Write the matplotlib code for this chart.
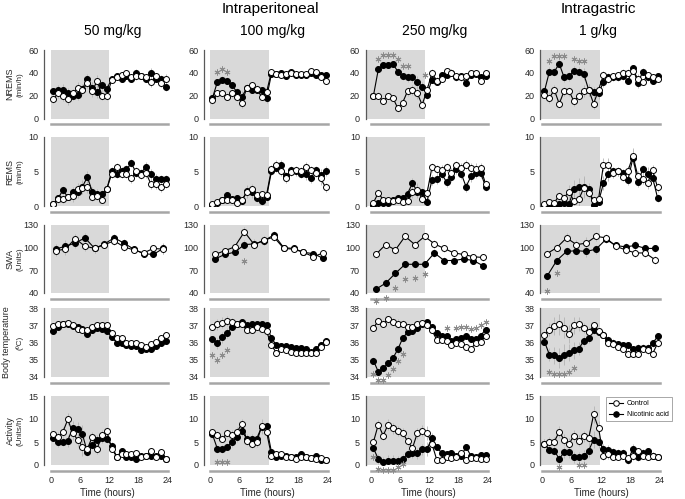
import matplotlib
matplotlib.use('Agg')
import matplotlib.pyplot as plt
from matplotlib.lines import Line2D

plt.rcParams['font.family'] = ['Liberation Sans', 'DejaVu Sans']

# ---------------- data ----------------
hours = [0.5, 1.5, 2.5, 3.5, 4.5, 5.5, 6.5, 7.5, 8.5, 9.5, 10.5, 11.5,
         12.5, 13.5, 14.5, 15.5, 16.5, 17.5, 18.5, 19.5, 20.5, 21.5, 22.5, 23.5]
swa_hours = [1, 3, 5, 7, 9, 11, 13, 15, 17, 19, 21, 23]

column_titles = ["50 mg/kg", "100 mg/kg", "250 mg/kg", "1 g/kg"]
route_titles = ["Intraperitoneal", "Intragastric"]
row_labels = ["NREMS", "REMS", "SWA", "Body temperature", "Activity"]
row_units = ["(min/h)", "(min/h)", "(Units)", "(ºC)", "(Units/h)"]
time_ticks = [0, 6, 12, 18, 24]
series_names = ["Control", "Nicotinic acid"]

# NREMS (min/h)
nrems_ctl_50 = [17, 22, 20, 17, 22, 27, 25, 31, 24, 33, 20, 20, 34, 36, 38, 40, 36, 37, 37, 36, 32, 37, 31, 35]
nrems_na_50 = [24, 25, 25, 22, 20, 21, 26, 35, 27, 23, 29, 26, 35, 37, 35, 37, 35, 40, 37, 35, 40, 35, 35, 28]
nrems_ctl_100 = [16, 22, 22, 19, 22, 19, 14, 27, 29, 26, 19, 23, 41, 39, 38, 39, 40, 39, 39, 39, 42, 41, 36, 33]
nrems_na_100 = [18, 32, 34, 33, 29, 23, 19, 27, 25, 25, 25, 18, 39, 39, 40, 37, 41, 38, 38, 38, 40, 38, 38, 38]
nrems_ctl_250 = [20, 20, 15, 20, 18, 9, 14, 24, 25, 22, 12, 25, 40, 33, 35, 42, 40, 37, 36, 37, 40, 40, 33, 40]
nrems_na_250 = [20, 43, 47, 47, 48, 41, 37, 36, 36, 32, 28, 21, 34, 32, 38, 38, 40, 36, 37, 31, 38, 39, 36, 37]
nrems_ctl_1g = [21, 18, 25, 13, 24, 24, 15, 20, 24, 25, 13, 25, 38, 35, 37, 38, 40, 40, 42, 35, 32, 38, 36, 35]
nrems_na_1g = [24, 41, 41, 48, 36, 37, 42, 41, 39, 25, 23, 22, 32, 36, 36, 36, 37, 33, 44, 31, 41, 36, 33, 37]
nrems_sem_50 = [3, 4, 5, 5, 4, 5, 4, 4, 5, 5, 4, 4, 2, 2, 2, 2, 3, 3, 2, 3, 4, 3, 3, 4]
nrems_sem_100 = [3, 3, 3, 3, 3, 4, 5, 3, 3, 3, 3, 4, 2, 2, 2, 2, 2, 2, 2, 2, 2, 2, 2, 3]
nrems_sem_250 = [3, 3, 2, 2, 2, 3, 3, 4, 4, 5, 4, 4, 3, 3, 3, 2, 3, 3, 3, 3, 2, 2, 3, 2]
nrems_sem_1g = [3, 4, 4, 4, 4, 4, 4, 4, 5, 5, 5, 5, 4, 4, 3, 3, 3, 3, 3, 4, 3, 3, 3, 2]

# REMS (min/h)
rems_ctl_50 = [0.3, 1.0, 1.0, 1.3, 1.4, 2.4, 2.6, 2.8, 1.3, 1.5, 0.9, 2.5, 4.7, 5.7, 4.7, 4.7, 4.0, 5.0, 4.5, 4.8, 3.2, 3.2, 2.7, 3.2]
rems_na_50 = [0.3, 1.1, 2.3, 1.3, 2.0, 2.1, 2.8, 4.2, 2.1, 1.8, 1.8, 2.5, 5.1, 4.6, 5.0, 5.3, 6.2, 4.8, 4.8, 5.7, 4.6, 3.9, 3.9, 3.9]
rems_ctl_100 = [0.3, 0.6, 0.8, 0.9, 0.8, 0.5, 0.9, 2.0, 2.4, 1.6, 1.7, 1.6, 5.4, 6.0, 5.0, 4.0, 4.9, 5.2, 5.1, 5.6, 5.2, 4.8, 4.0, 2.7]
rems_na_100 = [0.2, 0.4, 0.9, 1.6, 1.0, 1.2, 0.7, 2.2, 2.0, 1.2, 0.7, 1.3, 5.0, 5.5, 6.0, 4.3, 5.2, 5.0, 4.6, 4.6, 4.0, 5.2, 4.5, 5.1]
rems_ctl_250 = [0.5, 1.9, 0.9, 0.9, 0.7, 0.8, 0.6, 0.7, 2.0, 2.3, 1.0, 1.9, 5.6, 5.3, 5.2, 5.6, 4.8, 5.9, 5.5, 6.0, 5.5, 5.4, 5.5, 3.2]
rems_na_250 = [0.1, 0.4, 0.5, 0.5, 0.8, 1.2, 1.2, 1.8, 3.3, 2.1, 2.0, 0.6, 3.8, 3.9, 4.6, 3.5, 4.2, 5.3, 4.7, 2.8, 4.3, 4.8, 4.8, 2.8]
rems_ctl_1g = [0.3, 0.6, 0.5, 1.5, 1.2, 2.1, 0.7, 1.0, 2.6, 1.9, 0.9, 1.0, 6.0, 6.0, 4.8, 5.0, 4.2, 5.1, 7.3, 4.3, 3.9, 3.3, 5.2, 2.7]
rems_na_1g = [0.1, 0.1, 0.1, 0.3, 0.4, 0.3, 2.5, 2.8, 2.8, 2.5, 0.1, 0.6, 3.3, 4.6, 5.0, 5.0, 4.8, 3.8, 7.0, 3.5, 5.3, 4.7, 4.1, 1.2]
rems_sem_50 = [0.2, 0.5, 0.6, 0.5, 0.8, 0.9, 0.9, 0.9, 0.6, 0.6, 0.5, 0.5, 0.6, 0.6, 0.6, 0.6, 0.6, 0.6, 0.6, 0.7, 0.7, 0.7, 0.6, 0.6]
rems_sem_100 = [0.2, 0.3, 0.3, 0.4, 0.4, 0.3, 0.3, 0.9, 0.8, 0.6, 0.5, 0.6, 0.5, 0.6, 0.6, 0.6, 0.6, 0.6, 0.6, 0.8, 0.6, 0.6, 0.9, 0.7]
rems_sem_250 = [0.2, 0.5, 0.3, 0.3, 0.3, 0.3, 0.4, 0.5, 0.8, 1.0, 0.6, 0.8, 0.7, 0.7, 0.7, 0.7, 0.7, 0.6, 0.8, 0.7, 0.8, 0.8, 0.7, 0.6]
rems_sem_1g = [0.2, 0.3, 0.3, 0.6, 0.6, 0.9, 1.2, 1.2, 1.5, 0.8, 0.5, 0.6, 1.0, 1.0, 0.7, 0.6, 0.6, 0.7, 1.1, 0.8, 0.7, 0.9, 0.8, 0.6]

# SWA (Units), 2-h bins
swa_ctl_50 = [96, 98, 112, 102, 99, 104, 109, 101, 97, 93, 99, 98]
swa_na_50 = [98, 102, 106, 113, 99, 105, 113, 106, 98, 92, 91, 99]
swa_ctl_100 = [91, 96, 101, 121, 104, 110, 114, 99, 98, 94, 88, 93]
swa_na_100 = [85, 91, 94, 104, 105, 109, 117, 100, 99, 94, 92, 86]
swa_ctl_250 = [91, 104, 97, 115, 104, 115, 105, 99, 93, 91, 88, 87]
swa_na_250 = [45, 53, 66, 78, 78, 78, 93, 83, 83, 85, 83, 76]
swa_ctl_1g = [92, 100, 113, 104, 106, 115, 113, 102, 97, 93, 93, 84]
swa_na_1g = [62, 83, 95, 96, 95, 98, 111, 103, 101, 103, 99, 99]
swa_sem_50 = [7, 8, 6, 6, 6, 5, 5, 5, 4, 4, 4, 7]
swa_sem_100 = [4, 4, 4, 6, 6, 6, 5, 4, 4, 4, 4, 4]
swa_sem_250 = [5, 5, 5, 5, 5, 5, 5, 5, 4, 4, 4, 4]
swa_sem_1g = [5, 5, 6, 6, 8, 6, 5, 5, 5, 6, 5, 5]

# Body temperature (ºC)
temp_ctl_50 = [36.95, 37.05, 37.1, 37.15, 37.0, 36.8, 36.75, 36.7, 36.9, 37.0, 37.0, 37.0,
               36.55, 36.25, 36.25, 36.0, 35.95, 35.95, 35.85, 35.75, 35.9, 36.05, 36.25, 36.45]
temp_na_50 = [36.65, 36.9, 37.1, 37.05, 36.95, 36.9, 36.8, 36.5, 36.7, 36.85, 36.8, 36.65,
              36.3, 36.0, 36.0, 35.85, 35.8, 35.8, 35.55, 35.65, 35.65, 35.8, 36.0, 36.1]
temp_ctl_100 = [36.9, 37.05, 37.15, 37.25, 37.2, 37.1, 37.05, 36.7, 36.7, 36.9, 36.8, 36.65,
                35.85, 35.4, 35.6, 35.55, 35.45, 35.4, 35.4, 35.4, 35.4, 35.4, 35.75, 36.05]
temp_na_100 = [36.2, 35.95, 36.3, 36.55, 36.9, 37.1, 37.2, 37.0, 37.1, 37.05, 37.05, 37.0,
               36.25, 35.85, 35.8, 35.8, 35.75, 35.7, 35.7, 35.65, 35.45, 35.65, 35.85, 36.1]
temp_ctl_250 = [36.85, 37.25, 37.1, 37.35, 37.2, 37.1, 37.1, 36.9, 36.9, 37.1, 37.15, 37.0,
                36.7, 36.15, 36.15, 36.1, 35.85, 35.95, 35.9, 35.75, 35.65, 35.95, 36.05, 36.35]
temp_na_250 = [34.95, 34.3, 34.5, 34.8, 35.1, 35.6, 36.25, 36.6, 36.65, 36.85, 37.05, 37.2,
               36.9, 36.55, 36.4, 36.4, 36.1, 36.2, 36.25, 36.4, 36.2, 36.2, 36.4, 36.75]
temp_ctl_1g = [36.45, 36.75, 36.95, 37.05, 36.85, 36.5, 37.0, 37.05, 36.85, 36.6, 37.0, 36.65,
               36.45, 35.95, 35.9, 35.75, 35.65, 35.35, 35.35, 35.35, 35.65, 35.55, 35.35, 35.95]
temp_na_1g = [36.05, 35.3, 35.25, 35.1, 35.3, 35.4, 35.55, 35.65, 36.1, 36.25, 36.7, 36.6,
              36.45, 36.15, 36.0, 35.9, 35.85, 35.85, 35.6, 35.7, 35.7, 35.7, 35.95, 36.35]
temp_sem_50 = [0.15, 0.1, 0.1, 0.1, 0.1, 0.1, 0.1, 0.15, 0.15, 0.15, 0.15, 0.15,
               0.1, 0.1, 0.1, 0.1, 0.1, 0.1, 0.1, 0.1, 0.1, 0.1, 0.15, 0.15]
temp_sem_100 = [0.2, 0.3, 0.3, 0.3, 0.2, 0.15, 0.15, 0.15, 0.15, 0.15, 0.2, 0.2,
                0.15, 0.1, 0.1, 0.1, 0.1, 0.1, 0.1, 0.1, 0.1, 0.1, 0.15, 0.15]
temp_sem_250 = [0.2, 0.2, 0.2, 0.2, 0.2, 0.25, 0.2, 0.2, 0.15, 0.15, 0.15, 0.15,
                0.15, 0.15, 0.15, 0.15, 0.15, 0.15, 0.15, 0.15, 0.15, 0.15, 0.15, 0.15]
temp_sem_1g = [0.2, 0.4, 0.5, 0.6, 0.6, 0.5, 0.5, 0.4, 0.3, 0.3, 0.2, 0.2,
               0.2, 0.2, 0.2, 0.2, 0.2, 0.2, 0.2, 0.2, 0.2, 0.2, 0.2, 0.2]

# Activity (Units/h)
act_ctl_50 = [6.8, 6.1, 7.2, 9.9, 6.95, 5.5, 4.0, 3.5, 6.1, 3.5, 6.6, 7.3,
              3.5, 1.8, 2.3, 2.4, 2.4, 2.6, 1.8, 2.0, 3.1, 1.8, 2.9, 1.2]
act_na_50 = [5.85, 5.0, 5.1, 5.3, 8.1, 7.9, 6.65, 2.8, 4.4, 5.5, 5.85, 5.7,
             4.2, 1.8, 3.0, 1.8, 1.8, 1.2, 2.0, 2.0, 2.0, 2.0, 2.0, 1.2]
act_ctl_100 = [7.2, 6.6, 5.7, 6.95, 6.6, 7.2, 9.0, 5.3, 4.6, 5.0, 8.4, 7.2,
               2.0, 2.4, 2.4, 1.8, 1.7, 1.3, 1.8, 1.8, 1.5, 1.3, 1.5, 1.1]
act_na_100 = [6.65, 3.5, 3.5, 4.0, 5.0, 6.1, 7.3, 5.7, 5.7, 5.7, 8.3, 8.4,
              2.8, 1.8, 2.0, 2.0, 1.7, 1.7, 2.3, 1.8, 1.5, 2.0, 1.1, 1.1]
act_ctl_250 = [5.0, 8.8, 6.4, 8.8, 8.0, 7.4, 6.95, 5.2, 3.65, 6.95, 7.5, 6.95,
               4.6, 1.1, 1.1, 1.7, 1.5, 1.8, 2.6, 1.1, 1.5, 1.5, 1.3, 1.3]
act_na_250 = [3.65, 1.3, 0.7, 0.95, 0.95, 0.95, 1.3, 2.4, 2.6, 2.6, 3.4, 3.5,
              5.85, 3.9, 2.6, 2.3, 2.6, 1.9, 2.0, 3.9, 2.0, 1.7, 2.2, 2.2]
act_ctl_1g = [4.6, 5.1, 5.1, 7.2, 5.5, 4.6, 6.4, 5.3, 6.2, 5.85, 11.0, 8.0,
              2.0, 2.3, 1.8, 1.8, 2.0, 1.5, 2.0, 3.0, 2.0, 1.8, 2.0, 1.8]
act_na_1g = [4.6, 3.3, 3.15, 1.3, 2.8, 2.8, 1.7, 1.7, 2.0, 3.15, 5.5, 5.1,
             3.5, 3.3, 2.8, 2.6, 2.6, 1.1, 3.5, 1.7, 2.6, 3.0, 2.0, 1.8]
act_sem_50 = [0.7, 1.0, 1.0, 1.3, 1.5, 1.5, 2.0, 0.9, 1.0, 1.0, 1.0, 1.0,
              0.7, 0.5, 0.5, 0.5, 0.5, 0.5, 0.5, 0.5, 0.5, 0.5, 0.5, 0.5]
act_sem_100 = [0.7, 0.8, 0.8, 0.8, 1.0, 1.0, 1.0, 1.0, 1.0, 1.0, 1.5, 1.0,
               0.6, 0.5, 0.5, 0.5, 0.5, 0.5, 0.5, 0.5, 0.5, 0.5, 0.5, 0.4]
act_sem_250 = [0.8, 1.0, 1.0, 1.2, 1.2, 1.0, 1.0, 1.0, 1.0, 1.2, 1.2, 1.5,
               1.0, 0.7, 0.6, 0.5, 0.5, 0.5, 0.6, 0.6, 0.5, 0.5, 0.5, 0.5]
act_sem_1g = [1.0, 1.0, 1.0, 1.2, 1.2, 1.2, 1.2, 1.2, 1.2, 1.5, 1.8, 1.5,
              1.0, 1.0, 0.8, 0.8, 0.8, 0.8, 1.0, 0.8, 0.8, 0.8, 0.8, 0.6]

# significance asterisks (hour, value)
star_x_nrems = [[], [1.5, 2.5, 3.5], [1.5, 2.5, 3.5, 4.5, 5.5, 6.5, 7.5, 11], [1.5, 2.5, 3.5, 4.5, 6.5, 7.5, 8.5]]
star_y_nrems = [[], [41, 43, 41], [52, 56, 56, 56, 52, 46, 46, 38], [50, 55, 55, 55, 52, 50, 50]]
star_x_rems = [[], [], [], []]
star_y_rems = [[], [], [], []]
star_x_swa = [[], [7], [1, 3, 5, 7, 9, 11], [1, 3]]
star_y_swa = [[], [82], [30, 33, 46, 58, 60, 65], [43, 66]]
star_x_temp = [[], [0.5, 1.5, 2.5, 3.5],
               [0.5, 1.5, 2.5, 3.5, 4.5, 5.5, 6.5, 15.5, 17.5, 18.5, 19.5, 20.5, 21.5, 22.5, 23.5],
               [1.5, 2.5, 3.5, 4.5, 5.5, 6.5]]
star_y_temp = [[], [35.3, 35.0, 35.3, 35.55],
               [34.2, 33.8, 33.8, 34.1, 34.45, 34.9, 35.35, 36.85, 36.85, 36.9, 36.9, 36.8, 36.85, 37.0, 37.2],
               [34.3, 34.2, 34.2, 34.2, 34.3, 34.5]]
star_x_act = [[], [1.5, 2.5, 3.5], [0.5, 1.5, 2.5, 3.5, 4.5, 5.5, 6.5], [3.5, 7.5, 8.5]]
star_y_act = [[], [0.6, 0.6, 0.6], [1.7, -0.9, -1.1, -1.1, -1.1, -0.4, 0.2], [-0.4, 0.1, 0.1]]

# ---------------- layout ----------------
W, H = 685, 499
fig = plt.figure(figsize=(W / 100, H / 100), dpi=100)

col_geom = [(44, 50.7, 168), (204, 210, 328), (365.5, 371, 488), (540, 542, 660)]
row_geom = [(50, 118.5), (137, 206), (225, 293), (308, 377), (396, 465)]
shade_spans = [(0, 12), (0, 12), (-1.3, 11.1), (-0.4, 11.8)]
ylims = [(0, 60), (0, 10), (40, 130), (34, 38), (0, 15)]
yticks = [[0, 20, 40, 60], [0, 5, 10], [40, 70, 100, 130], [34, 35, 36, 37, 38], [0, 5, 10, 15]]

rows = [
    (hours, [nrems_ctl_50, nrems_ctl_100, nrems_ctl_250, nrems_ctl_1g],
     [nrems_na_50, nrems_na_100, nrems_na_250, nrems_na_1g],
     [nrems_sem_50, nrems_sem_100, nrems_sem_250, nrems_sem_1g], star_x_nrems, star_y_nrems),
    (hours, [rems_ctl_50, rems_ctl_100, rems_ctl_250, rems_ctl_1g],
     [rems_na_50, rems_na_100, rems_na_250, rems_na_1g],
     [rems_sem_50, rems_sem_100, rems_sem_250, rems_sem_1g], star_x_rems, star_y_rems),
    (swa_hours, [swa_ctl_50, swa_ctl_100, swa_ctl_250, swa_ctl_1g],
     [swa_na_50, swa_na_100, swa_na_250, swa_na_1g],
     [swa_sem_50, swa_sem_100, swa_sem_250, swa_sem_1g], star_x_swa, star_y_swa),
    (hours, [temp_ctl_50, temp_ctl_100, temp_ctl_250, temp_ctl_1g],
     [temp_na_50, temp_na_100, temp_na_250, temp_na_1g],
     [temp_sem_50, temp_sem_100, temp_sem_250, temp_sem_1g], star_x_temp, star_y_temp),
    (hours, [act_ctl_50, act_ctl_100, act_ctl_250, act_ctl_1g],
     [act_na_50, act_na_100, act_na_250, act_na_1g],
     [act_sem_50, act_sem_100, act_sem_250, act_sem_1g], star_x_act, star_y_act),
]

shade_color = '#d9d9d9'
err_color = '#b3b3b3'
star_color = '#8c8c8c'
ms = 4.3

for r, (xs_data, ctl_list, na_list, sem_list, sx, sy) in enumerate(rows):
    top, bot = row_geom[r]
    for c in range(4):
        xs, x0, x24 = col_geom[c]
        pph = (x24 - x0) / 24.0
        left_hr = -(x0 - xs) / pph
        right_hr = 24.6
        right_px = x0 + right_hr * pph
        ax = fig.add_axes([xs / W, 1 - bot / H, (right_px - xs) / W, (bot - top) / H])
        ax.set_xlim(left_hr, right_hr)
        ax.set_ylim(*ylims[r])
        ax.axvspan(shade_spans[c][0], shade_spans[c][1], color=shade_color, lw=0, zorder=0)

        ax.errorbar(xs_data, na_list[c], yerr=sem_list[c], fmt='none', ecolor=err_color,
                    elinewidth=0.6, capsize=0, zorder=2)
        ax.errorbar(xs_data, ctl_list[c], yerr=sem_list[c], fmt='none', ecolor=err_color,
                    elinewidth=0.6, capsize=0, zorder=2)
        ax.plot(xs_data, na_list[c], '-o', color='black', mfc='black', mec='black',
                ms=ms, lw=0.8, mew=0.7, zorder=3)
        ax.plot(xs_data, ctl_list[c], '-o', color='black', mfc='white', mec='black',
                ms=ms, lw=0.8, mew=0.7, zorder=4)
        if sx[c]:
            ax.plot(sx[c], sy[c], linestyle='none', marker=(6, 2, 0), color=star_color,
                    ms=4.2, mew=0.7, clip_on=False, zorder=5)

        for s in ['top', 'right']:
            ax.spines[s].set_visible(False)
        ax.spines['left'].set_color('#595959')
        ax.spines['left'].set_linewidth(0.9)
        ax.spines['left'].set_bounds(*ylims[r])
        ax.spines['bottom'].set_color('#a6a6a6')
        ax.spines['bottom'].set_linewidth(1.8)
        ax.spines['bottom'].set_position(('outward', 4))
        ax.spines['bottom'].set_bounds(0, 24)
        ax.set_yticks(yticks[r])
        ax.tick_params(axis='y', length=0, pad=4, labelsize=6.5, labelcolor='#262626')
        if r == 4:
            ax.set_xticks(time_ticks)
            ax.tick_params(axis='x', length=0, pad=4, labelsize=6.5, labelcolor='#262626')
            ax.set_xlabel("Time (hours)", fontsize=7, labelpad=2, color='#262626')
        else:
            ax.set_xticks([])
        ax.patch.set_alpha(0)

        if r == 4 and c == 3:
            handles = [
                Line2D([], [], color='black', lw=0.8, marker='o', mfc='white', mec='black', ms=4, mew=0.7),
                Line2D([], [], color='black', lw=0.8, marker='o', mfc='black', mec='black', ms=4, mew=0.7),
            ]
            leg = ax.legend(handles, series_names, loc='upper left',
                            bbox_to_anchor=(606 / W, 1 - 397 / H), bbox_transform=fig.transFigure,
                            fontsize=5, frameon=True, fancybox=False, edgecolor='#808080',
                            handlelength=2.0, handletextpad=0.5, borderpad=0.5,
                            labelspacing=0.5, borderaxespad=0)
            leg.get_frame().set_linewidth(0.6)

    # row labels
    yc = 1 - (top + bot) / 2 / H
    lx = 7 if r == 3 else 10
    fig.text(lx / W, yc, row_labels[r], rotation=90, ha='center', va='center', fontsize=6.5, color='#262626')
    fig.text(20 / W, yc, row_units[r], rotation=90, ha='center', va='center', fontsize=5.8, color='#262626')

# titles
title_x = [113, 272, 435, 598]
for c in range(4):
    fig.text(title_x[c] / W, 1 - 31 / H, column_titles[c], ha='center', va='center', fontsize=10)
fig.text(270 / W, 1 - 9 / H, route_titles[0], ha='center', va='center', fontsize=11)
fig.text(598 / W, 1 - 9 / H, route_titles[1], ha='center', va='center', fontsize=11)

fig.savefig('out.png', dpi=100)
